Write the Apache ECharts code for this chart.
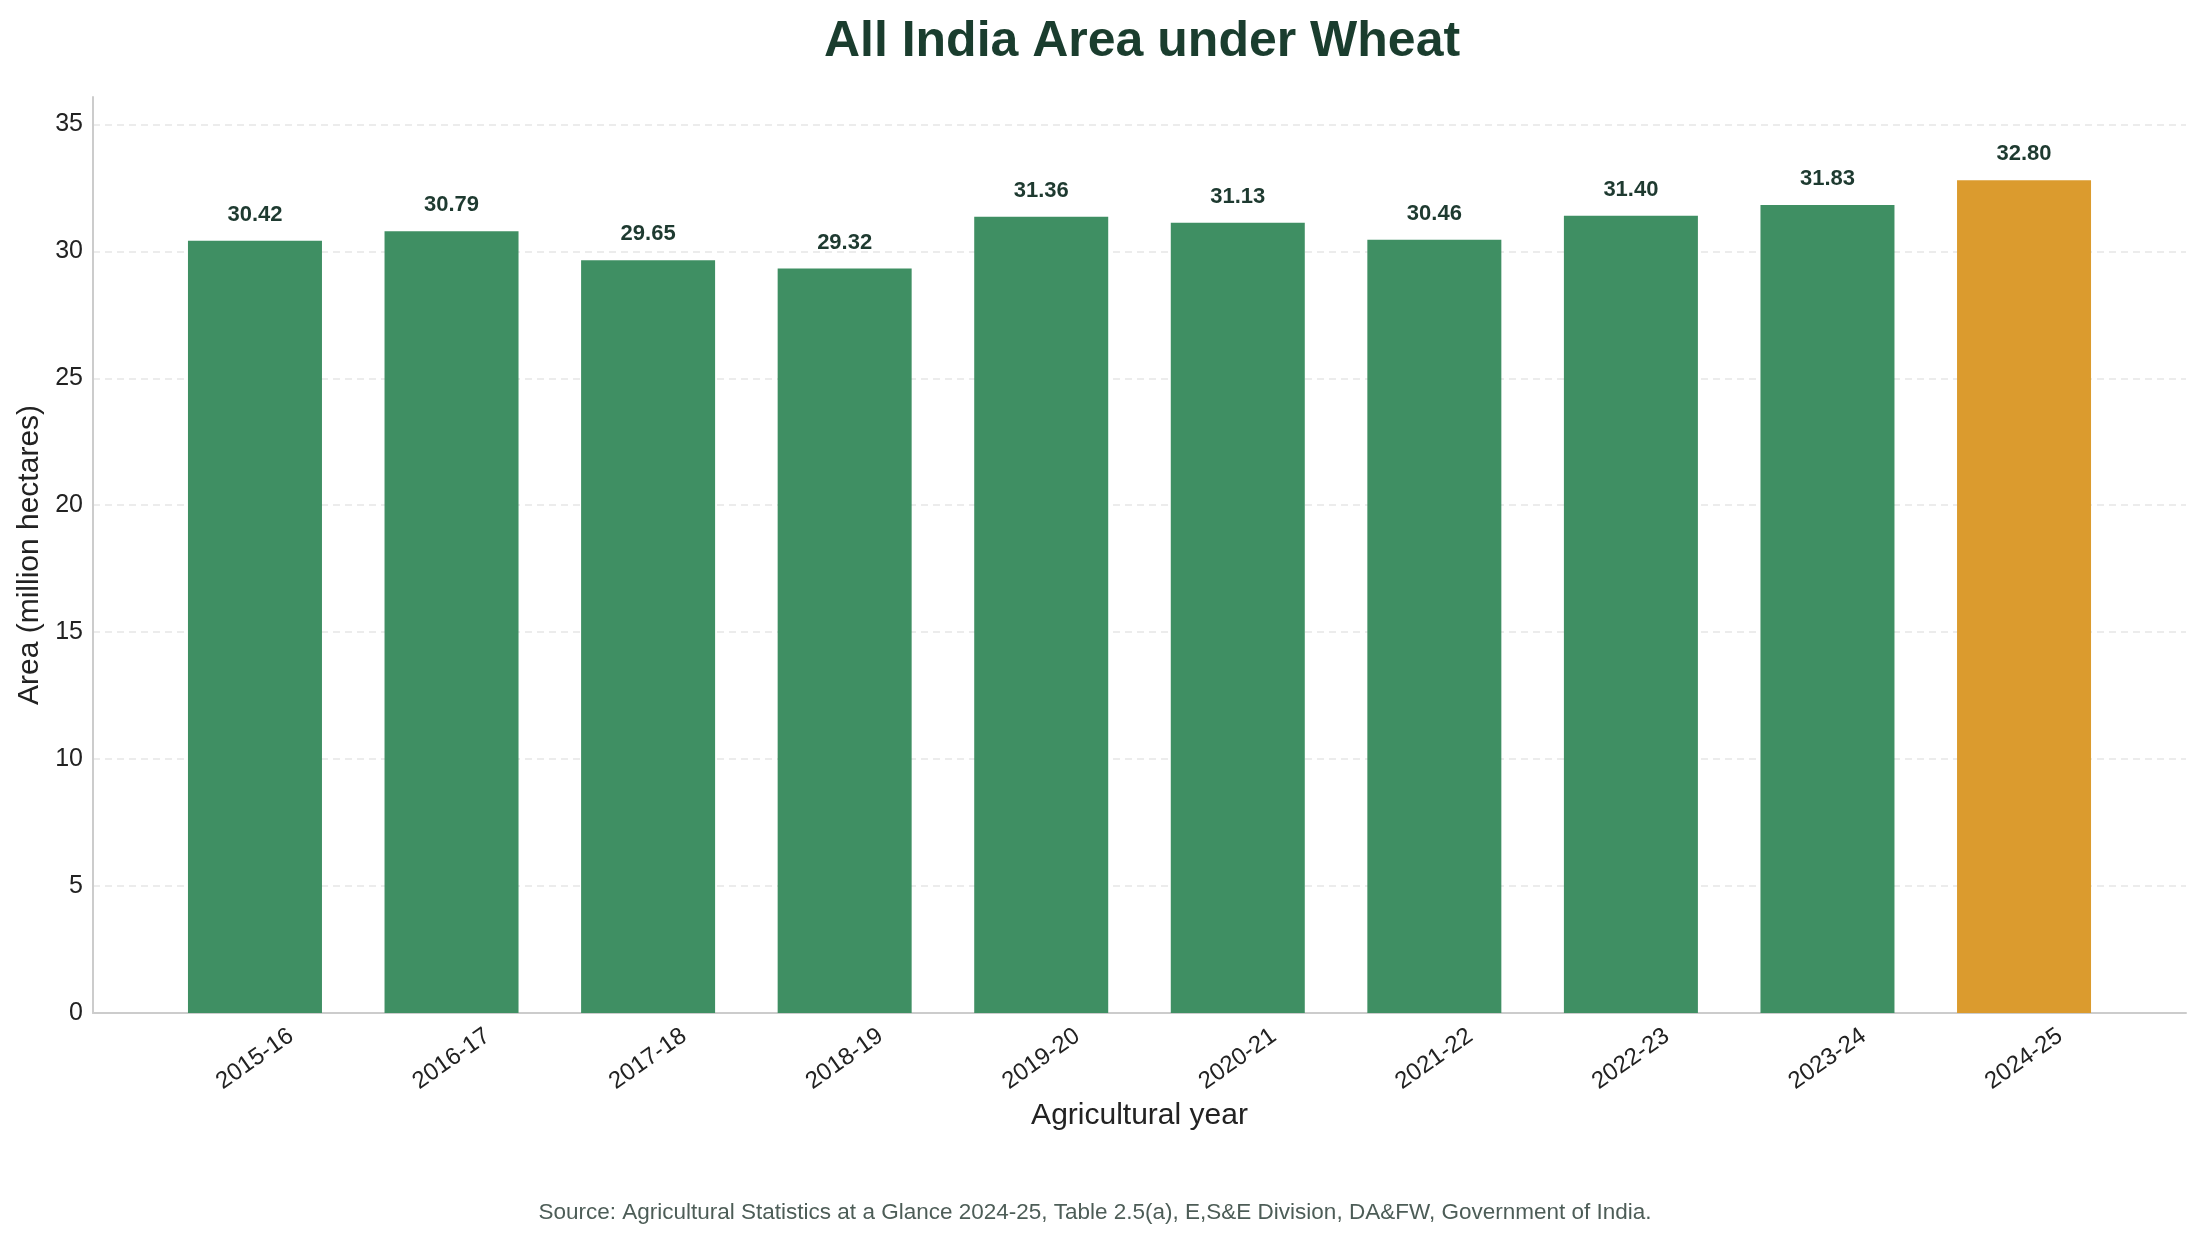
<!DOCTYPE html>
<html lang="en">

<head>
    <meta charset="UTF-8">
    <title>All India Area under Wheat</title>
    <style>
        html, body { margin: 0; padding: 0; background: #fff; }
        #main { width: 2205px; height: 1241px; }
    </style>
</head>

<body>
    <div id="main"></div>
</body>
<script src="https://cdn.jsdelivr.net/npm/echarts@6/dist/echarts.min.js"></script>

<script>
    // data
    var years = ['2015-16', '2016-17', '2017-18', '2018-19', '2019-20',
        '2020-21', '2021-22', '2022-23', '2023-24', '2024-25'];
    var area = [30.42, 30.79, 29.65, 29.32, 31.36, 31.13, 30.46, 31.40, 31.83, 32.80];
    var yTicks = [0, 5, 10, 15, 20, 25, 30, 35];

    var green = '#3f8f63';
    var orange = '#db9b2e';
    var font = 'Liberation Sans, Arial, sans-serif';

    var barData = [];
    for (var i = 0; i < area.length; i++) {
        barData.push({
            value: [i, area[i]],
            itemStyle: { color: i == area.length - 1 ? orange : green }
        });
    }
    var xPos = [];
    for (var j = 0; j < years.length; j++) xPos.push(j);

    var myChart = echarts.init(document.getElementById('main'));
    myChart.setOption({
        animation: false,
        title: [{
            text: 'All India Area under Wheat',
            left: 1137,
            top: 12,
            textAlign: 'center',
            textStyle: { fontFamily: font, fontSize: 50, fontWeight: 'bold', color: '#1a3d2e' }
        }, {
            text: 'Source: Agricultural Statistics at a Glance 2024-25, Table 2.5(a), E,S&E Division, DA&FW, Government of India.',
            left: 1090,
            top: 1196,
            textAlign: 'center',
            textStyle: { fontFamily: font, fontSize: 22.5, fontWeight: 'normal', color: '#4d5d57' }
        }],
        grid: { left: 93, right: 19, top: 97, bottom: 228 },
        xAxis: {
            type: 'value',
            min: -0.824,
            max: 9.824,
            name: 'Agricultural year',
            nameLocation: 'middle',
            nameGap: 87,
            nameTextStyle: { fontFamily: font, fontSize: 30, color: '#222' },
            axisLine: { show: true, lineStyle: { color: '#cccccc', width: 2 } },
            axisTick: { show: false },
            splitLine: { show: false },
            axisLabel: {
                customValues: xPos,
                rotate: 35,
                align: 'center',
                verticalAlign: 'middle',
                margin: 46,
                fontFamily: font,
                fontSize: 24,
                color: '#222',
                formatter: function (v) { return years[Math.round(v)]; }
            }
        },
        yAxis: {
            type: 'value',
            min: 0,
            max: 36.08,
            interval: 5,
            name: 'Area (million hectares)',
            nameLocation: 'middle',
            nameGap: 48,
            nameTextStyle: { fontFamily: font, fontSize: 30, color: '#222' },
            axisLine: { show: true, onZero: false, lineStyle: { color: '#cccccc', width: 2 } },
            axisTick: { show: false, customValues: yTicks },
            axisLabel: {
                customValues: yTicks,
                margin: 10,
                fontFamily: font,
                fontSize: 25,
                color: '#222'
            },
            splitLine: { show: true, lineStyle: { color: '#e6e6e6', width: 1.5, type: [7, 5] } }
        },
        series: [{
            type: 'bar',
            data: barData,
            barWidth: 134,
            label: {
                show: true,
                position: 'top',
                distance: 15,
                fontFamily: font,
                fontSize: 22,
                fontWeight: 'bold',
                color: '#1e3a30',
                formatter: function (p) { return p.value[1].toFixed(2); }
            }
        }]
    });
</script>

</html>
